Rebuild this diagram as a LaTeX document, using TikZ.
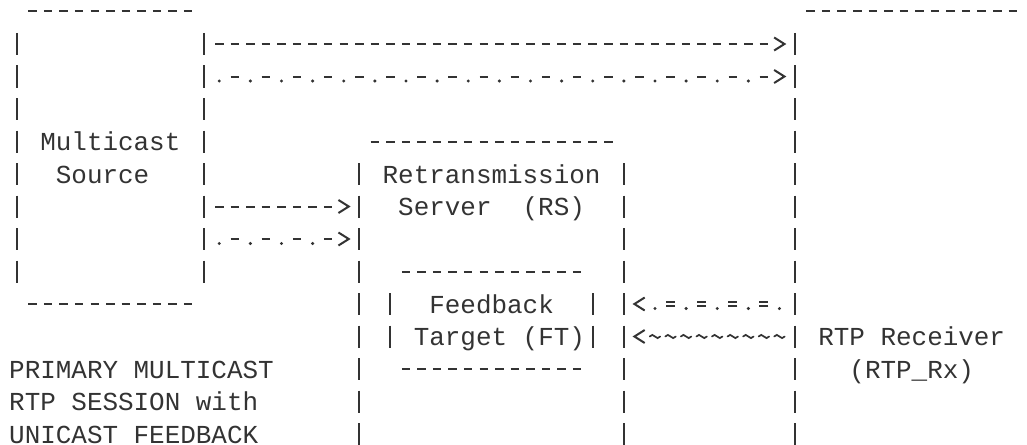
\documentclass[tikz,border=0pt]{standalone}
\usepackage{fontspec}
\usetikzlibrary{fit,arrows.meta}
\newfontfamily\asciimono{Liberation Mono}
\newcommand\labelfont{\asciimono\fontsize{25.93pt}{32.5pt}\selectfont}
\definecolor{inkc}{HTML}{333333}

% open chevron tip shaped like a typed ">", the shaft stops at its back
\pgfdeclarearrow{
  name = chev,
  setup code = {
    \pgfarrowssettipend{0pt}
    \pgfarrowssetlineend{-12.5pt}
    \pgfarrowssetbackend{-12.5pt}
    \pgfarrowsupperhullpoint{-12.5pt}{7pt}
    \pgfarrowsupperhullpoint{0pt}{0pt}
  },
  drawing code = {
    \pgfsetdash{}{0pt}
    \pgfsetmiterjoin
    \pgfsetbuttcap
    \pgfpathmoveto{\pgfqpoint{-11.5pt}{6.5pt}}
    \pgfpathlineto{\pgfqpoint{-1.2pt}{0pt}}
    \pgfpathlineto{\pgfqpoint{-11.5pt}{-6.5pt}}
    \pgfusepathqstroke
  }
}

\begin{document}
\begin{tikzpicture}[
  x=15.56pt, y=-32.5pt,
  frame/.style={inner sep=0pt, outer sep=0pt, draw=none},
  ink/.style={draw=inkc, line width=2pt, line cap=butt},
  hrule/.style={ink, dash pattern=on 8.5pt off 7.06pt,
    shorten <=11.31pt, shorten >=11.31pt},
  vrule/.style={ink, dash pattern=on 22pt off 10.5pt,
    shorten <=21.5pt, shorten >=21.5pt},
  dashrow/.style={ink, dash pattern=on 8.5pt off 7.06pt,
    shorten <=11.31pt, shorten >=9.36pt, -{chev}},
  altrow/.style={ink, dash pattern=on 8.5pt off 22.62pt,
    shorten <=26.87pt, shorten >=9.36pt, -{chev}},
  dotrow/.style={draw=inkc, line width=3.4pt, line cap=round,
    dash pattern=on 0pt off 31.12pt,
    shorten <=15.56pt, shorten >=23.34pt,
    transform canvas={yshift=-4.5pt}},
  eqrow/.style={draw=inkc, line width=1.8pt, line cap=butt,
    double=white, double distance=2.8pt,
    dash pattern=on 9pt off 22.12pt,
    shorten <=26.62pt, shorten >=23.56pt},
  tilderow/.style={draw=inkc, line width=1.7pt, line cap=round},
  tiponly/.style={ink, dash pattern=on 0pt off 4000pt,
    shorten >=9.36pt, -{chev}},
  lbl/.style={font=\labelfont, text=inkc, anchor=base west,
    inner sep=0pt, outer sep=0pt, yshift=-9pt}
]
\useasboundingbox (-1.0925,-0.35385) rectangle (64.910,13.3077);
\clip (-1.0925,-0.35385) rectangle (64.910,13.3077);

% boxes (grid: one unit = one character cell)
\node[frame, fit={(0,0) (12,9)}] (src) {};
\node[frame, fit={(22,4) (39,15)}] (rs) {};
\node[frame, fit={(24,8) (37,11)}] (ft) {};
\node[frame, fit={(50,0) (65,15)}] (rx) {};

% Multicast Source
\draw[hrule] (src.north west) -- (src.north east);
\draw[hrule] (src.south west) -- (src.south east);
\draw[vrule] (src.north west) -- (src.south west);
\draw[vrule] (src.north east) -- (src.south east);
% Retransmission Server
\draw[hrule] (rs.north west) -- (rs.north east);
\draw[vrule] (rs.north west) -- (rs.south west);
\draw[vrule] (rs.north east) -- (rs.south east);
% Feedback Target
\draw[hrule] (ft.north west) -- (ft.north east);
\draw[hrule] (ft.south west) -- (ft.south east);
\draw[vrule] (ft.north west) -- (ft.south west);
\draw[vrule] (ft.north east) -- (ft.south east);
% RTP Receiver
\draw[hrule] (rx.north west) -- (rx.north east);
\draw[vrule] (rx.north west) -- (rx.south west);

% source to receiver
\draw[dashrow] (src.east |- 0,1) -- (rx.west |- 0,1);
\draw[altrow]  (src.east |- 0,2) -- (rx.west |- 0,2);
\draw[dotrow]  (src.east |- 0,2) -- (rx.west |- 0,2);
% source to retransmission server
\draw[dashrow] (src.east |- 0,6) -- (rs.west |- 0,6);
\draw[altrow]  (src.east |- 0,7) -- (rs.west |- 0,7);
\draw[dotrow]  (src.east |- 0,7) -- (rs.west |- 0,7);
% receiver feedback to the server
\draw[eqrow]   (rx.west |- 0,9) -- (rs.east |- 0,9);
\draw[dotrow]  (rx.west |- 0,9) -- (rs.east |- 0,9);
\draw[tiponly] (rx.west |- 0,9) -- (rs.east |- 0,9);
\draw[tilderow] (rx.west |- 0,10) ++(-5.25pt,0)
  foreach \k in {1,...,9} {
    ++(-5.06pt,0) sin ++(-2.625pt,-1.6pt) cos ++(-2.625pt,1.6pt)
    sin ++(-2.625pt,1.6pt) cos ++(-2.625pt,-1.6pt)
  };
\draw[tiponly] (rx.west |- 0,10) -- (rs.east |- 0,10);

% labels
\node[lbl] (srcA) at (1.5,4) {Multicast};
\node[lbl] (srcB) at (2.5,5) {Source};
\node[lbl] (rsA) at (23.5,5) {Retransmission};
\node[lbl] (rsB) at (24.5,6) {Server\ \ (RS)};
\node[lbl] (ftA) at (26.5,9) {Feedback};
\node[lbl] (ftB) at (25.5,10) {Target (FT)};
\node[lbl] (rxA) at (51.5,10) {RTP Receiver};
\node[lbl] (rxB) at (53.5,11) {(RTP\_Rx)};
\node[lbl] (capA) at (-0.5,11) {PRIMARY MULTICAST};
\node[lbl] (capB) at (-0.5,12) {RTP SESSION with};
\node[lbl] (capC) at (-0.5,13) {UNICAST FEEDBACK};
\end{tikzpicture}
\end{document}
